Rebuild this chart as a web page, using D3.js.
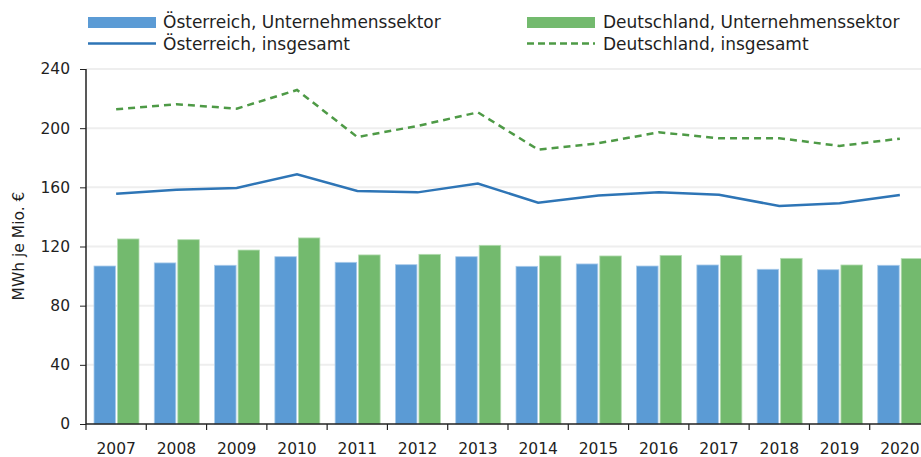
<!DOCTYPE html>
<html>
<meta charset="UTF-8">
<script src="https://d3js.org/d3.v7.min.js"></script>
<style>
    body {
        margin: 0;
        background: #fff;
        font-family: "DejaVu Sans", sans-serif;
    }

    text {
        fill: #1f1f1f;
    }

    .grid line {
        stroke: #eeeeee;
        stroke-width: 2;
    }

    .axis path,
    .axis line {
        stroke: #222;
    }
</style>

<body>
    <svg width="921" height="457"></svg>
    <script>
        // data
        var years = ["2007", "2008", "2009", "2010", "2011", "2012", "2013", "2014", "2015", "2016", "2017", "2018", "2019", "2020"];
        var atSektor = [106.8, 108.9, 107.3, 113.1, 109.3, 107.7, 113.1, 106.6, 108.2, 106.8, 107.5, 104.6, 104.3, 107.3];
        var deSektor = [125.1, 124.6, 117.6, 125.8, 114.3, 114.7, 120.8, 113.6, 113.6, 114.0, 114.0, 112.0, 107.5, 111.8];
        var atGesamt = [155.7, 158.4, 159.6, 168.8, 157.5, 156.6, 162.5, 149.6, 154.4, 156.6, 155.0, 147.4, 149.2, 154.8];
        var deGesamt = [212.8, 216.2, 213.2, 225.8, 194.0, 201.5, 210.7, 185.5, 189.8, 197.2, 193.2, 193.2, 188.0, 192.9];
        var yTicks = [0, 40, 80, 120, 160, 200, 240];

        var colBlue = "#5B9BD5", colGreen = "#73BA6E", colBlueLine = "#2E75B6", colGreenLine = "#4E9A46";

        const svg = d3.select("svg"),
            plotLeft = 86, plotRight = 930, plotTop = 69, plotBottom = 424;

        const x = d3.scaleBand().domain(years).range([plotLeft, plotRight]);
        const y = d3.scaleLinear().domain([0, 240]).range([plotBottom, plotTop]);

        // gridlines
        svg.append("g").attr("class", "grid")
            .selectAll("line").data(yTicks.slice(1)).enter().append("line")
            .attr("x1", plotLeft).attr("x2", 921)
            .attr("y1", d => y(d)).attr("y2", d => y(d));

        // bars
        const bw = 21.5, inner = 8;
        const bars = svg.append("g");
        bars.selectAll(".bar-at").data(atSektor).enter().append("rect")
            .attr("x", (d, i) => x(years[i]) + inner)
            .attr("y", d => y(d))
            .attr("width", bw)
            .attr("height", d => plotBottom - y(d))
            .attr("fill", colBlue)
            .attr("stroke", "#a9cbea").attr("stroke-width", 0.8);
        bars.selectAll(".bar-de").data(deSektor).enter().append("rect")
            .attr("x", (d, i) => x(years[i]) + inner + bw + 2)
            .attr("y", d => y(d))
            .attr("width", bw)
            .attr("height", d => plotBottom - y(d))
            .attr("fill", colGreen)
            .attr("stroke", "#b4dcb1").attr("stroke-width", 0.8);

        // lines
        const line = d3.line()
            .x((d, i) => x(years[i]) + x.bandwidth() / 2)
            .y(d => y(d));
        svg.append("path").datum(atGesamt)
            .attr("d", line).attr("fill", "none")
            .attr("stroke", colBlueLine).attr("stroke-width", 2.5);
        svg.append("path").datum(deGesamt)
            .attr("d", line).attr("fill", "none")
            .attr("stroke", colGreenLine).attr("stroke-width", 2.5)
            .attr("stroke-dasharray", "7 5");

        // y axis
        const yAxis = svg.append("g").attr("class", "axis")
            .attr("transform", `translate(${plotLeft},0)`)
            .call(d3.axisLeft(y).tickValues(yTicks).tickSize(6).tickPadding(10));
        yAxis.select(".domain").attr("d", `M0,${plotTop}V${plotBottom}`).attr("stroke-width", 1.5);
        yAxis.selectAll("text").style("font-size", "15.5px").style("font-family", "DejaVu Sans").attr("fill", "#1f1f1f");

        // x axis
        const xAxis = svg.append("g").attr("class", "axis")
            .attr("transform", `translate(0,${plotBottom})`)
            .call(d3.axisBottom(x).tickSize(0).tickPadding(19));
        xAxis.select(".domain").attr("d", `M${plotLeft},0H921`).attr("stroke-width", 1.5);
        xAxis.selectAll("text").style("font-size", "15.5px").style("font-family", "DejaVu Sans").attr("fill", "#1f1f1f");
        // ticks at band boundaries
        svg.append("g").selectAll("line").data(years).enter().append("line")
            .attr("x1", d => x(d)).attr("x2", d => x(d))
            .attr("y1", plotBottom).attr("y2", plotBottom + 6)
            .attr("stroke", "#222").attr("stroke-width", 1.2);

        // y title
        svg.append("text")
            .attr("transform", "translate(24,246) rotate(-90)")
            .attr("text-anchor", "middle")
            .style("font-size", "15.5px")
            .text("MWh je Mio. €");

        // legend
        const legend = svg.append("g").style("font-size", "17px");
        legend.append("rect").attr("x", 88).attr("y", 17).attr("width", 68).attr("height", 11).attr("fill", colBlue);
        legend.append("text").attr("x", 163).attr("y", 28).text("Österreich, Unternehmenssektor");
        legend.append("line").attr("x1", 88).attr("x2", 156).attr("y1", 43.5).attr("y2", 43.5)
            .attr("stroke", colBlueLine).attr("stroke-width", 2.5);
        legend.append("text").attr("x", 163).attr("y", 50).text("Österreich, insgesamt");

        legend.append("rect").attr("x", 527).attr("y", 17).attr("width", 68).attr("height", 11).attr("fill", colGreen);
        legend.append("text").attr("x", 603).attr("y", 28).text("Deutschland, Unternehmenssektor");
        legend.append("line").attr("x1", 527).attr("x2", 595).attr("y1", 43.5).attr("y2", 43.5)
            .attr("stroke", colGreenLine).attr("stroke-width", 2.5).attr("stroke-dasharray", "7 4");
        legend.append("text").attr("x", 603).attr("y", 50).text("Deutschland, insgesamt");
    </script>
</body>
</html>
